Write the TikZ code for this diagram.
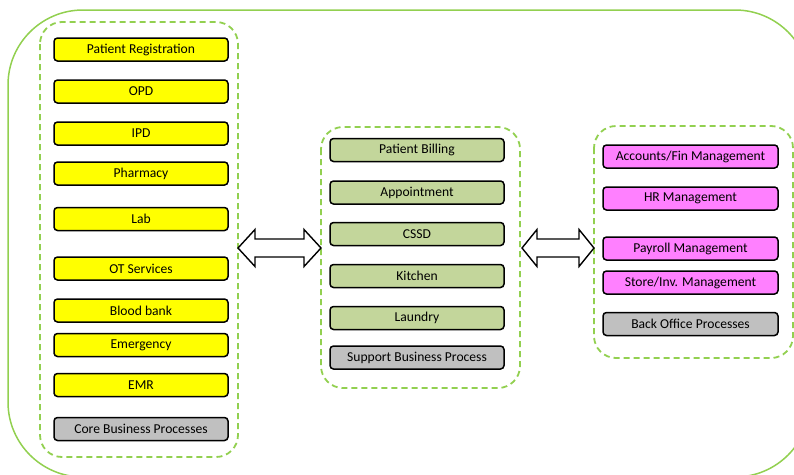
\documentclass[tikz,border=0pt]{standalone}
\usepackage{fontspec}
\setmainfont{Carlito}
\usetikzlibrary{calc}
\definecolor{lgreen}{HTML}{92D050}
\definecolor{olive}{HTML}{C3D69B}
\definecolor{pinkbox}{HTML}{FF80FF}
\definecolor{greybox}{HTML}{C0C0C0}
\definecolor{ybox}{HTML}{FFFF00}
\tikzset{
  procbox/.style={draw=black, line width=1.5pt, rounded corners=3.5pt, minimum height=23pt, inner sep=0pt, font=\fontsize{13.6}{15}\selectfont, text=black},
  corebox/.style={procbox, fill=ybox, minimum width=174pt},
  supbox/.style={procbox, fill=olive, minimum width=174pt},
  backbox/.style={procbox, fill=pinkbox, minimum width=175pt},
  grpbox/.style={draw=lgreen, line width=1.8pt, dash pattern=on 6pt off 4pt, rounded corners=22pt},
  blockarrow/.style={draw=black, line width=1.4pt, fill=white}
}
\begin{document}
\begin{tikzpicture}[x=1pt,y=-1pt]
\clip (0,0) rectangle (794,474);
\draw[lgreen, line width=1.5pt, rounded corners=75pt] (8,10) rectangle (810,477);

% groups
\draw[grpbox] (40,22) rectangle (238,457);
\draw[grpbox] (321,127) rectangle (520,388);
\draw[grpbox] (594,126) rectangle (793,358);
\coordinate (gl) at (238,248);
\coordinate (gml) at (321,248);
\coordinate (gmr) at (520,248);
\coordinate (gr) at (594,248);

% core
\node[corebox] (pr) at (141,49.5) {Patient Registration};
\node[corebox] (opd) at (141,91.5) {OPD};
\node[corebox] (ipd) at (141,133.5) {IPD};
\node[corebox] (ph) at (141,173.5) {Pharmacy};
\node[corebox] (lab) at (141,219) {Lab};
\node[corebox] (ot) at (141,268.5) {OT Services};
\node[corebox] (bb) at (141,310.5) {Blood bank};
\node[corebox] (em) at (141,345) {Emergency};
\node[corebox] (emr) at (141,385) {EMR};
\node[procbox, fill=greybox, minimum width=174pt] (core) at (141,429) {Core Business Processes};

% support
\node[supbox] (pb) at (417,150) {Patient Billing};
\node[supbox] (ap) at (417,192.5) {Appointment};
\node[supbox] (cssd) at (417,234) {CSSD};
\node[supbox] (ki) at (417,276) {Kitchen};
\node[supbox] (la) at (417,318) {Laundry};
\node[procbox, fill=greybox, minimum width=174pt] (sup) at (417,357.5) {Support Business Process};

% back office
\node[backbox] (acc) at (690.5,156.5) {Accounts/Fin Management};
\node[backbox] (hr) at (690.5,198.5) {HR Management};
\node[backbox] (pay) at (690.5,248.5) {Payroll Management};
\node[backbox] (st) at (690.5,282.5) {Store/Inv. Management};
\node[procbox, fill=greybox, minimum width=175pt] (bo) at (690.5,324) {Back Office Processes};

% block double arrows
\draw[blockarrow] (gl) -- ++(17,-18.5) -- ++(0,9.5) -- ($(gml)+(-17,-9)$) -- ++(0,-9.5) -- (gml) -- ++(-17,18.5) -- ++(0,-9.5) -- ($(gl)+(17,9)$) -- ++(0,9.5) -- cycle;
\draw[blockarrow] ($(gmr)+(2,0)$) -- ++(15,-18.5) -- ++(0,9.5) -- ($(gr)+(-15,-9)$) -- ++(0,-9.5) -- (gr) -- ++(-15,18.5) -- ++(0,-9.5) -- ($(gmr)+(17,9)$) -- ++(0,9.5) -- cycle;
\end{tikzpicture}
\end{document}
